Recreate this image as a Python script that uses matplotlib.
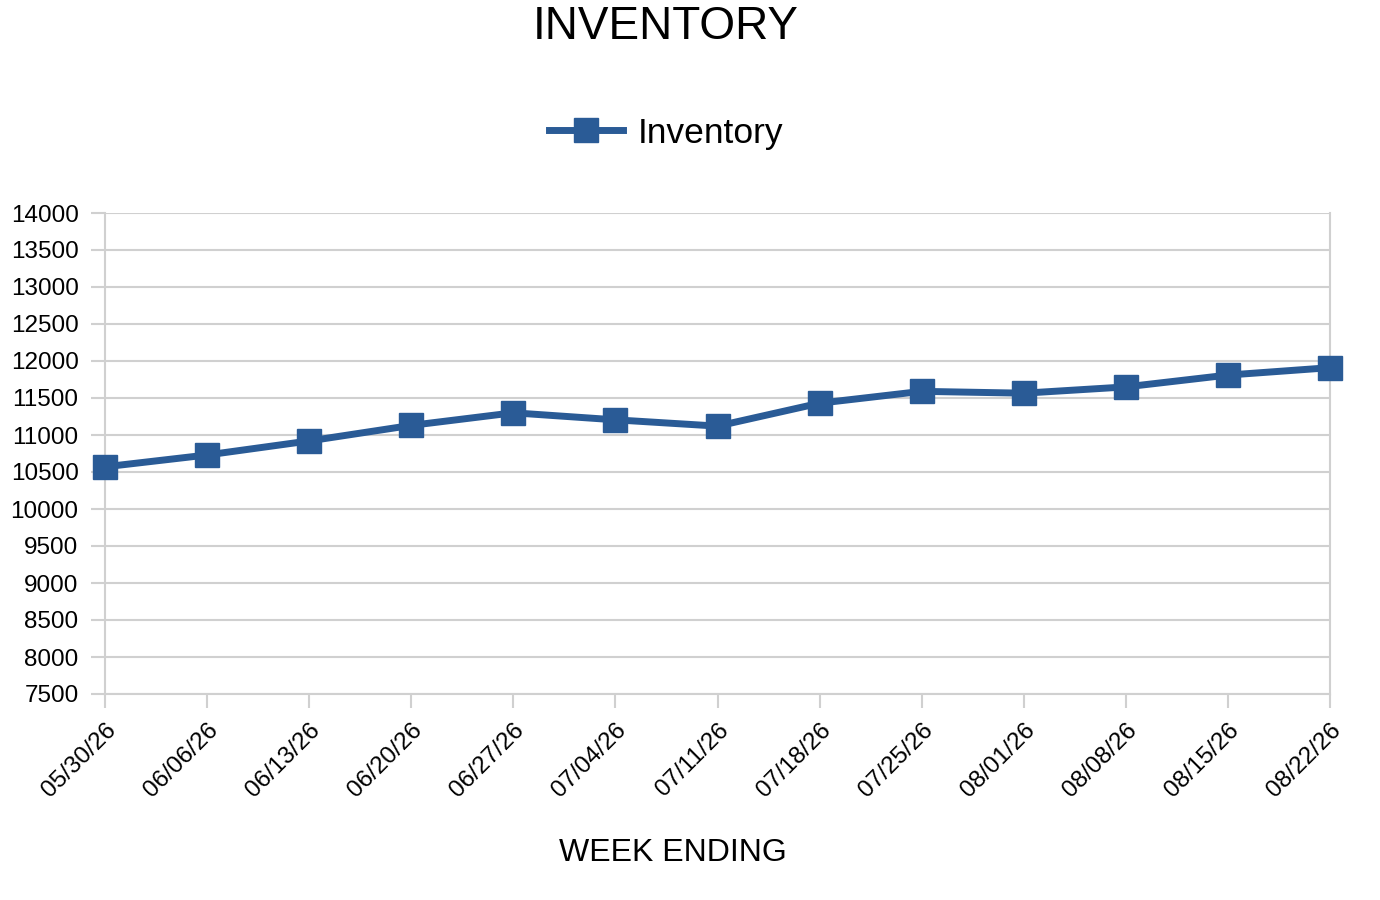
import matplotlib.pyplot as plt
import numpy as np

plt.rcParams['font.family'] = ['Liberation Sans', 'DejaVu Sans']

# data
weeks = ['05/30/26', '06/06/26', '06/13/26', '06/20/26', '06/27/26', '07/04/26',
         '07/11/26', '07/18/26', '07/25/26', '08/01/26', '08/08/26', '08/15/26',
         '08/22/26']
inventory = [10570, 10730, 10920, 11130, 11300, 11205, 11120, 11430, 11590,
             11565, 11650, 11810, 11910]
yticks = list(range(7500, 14001, 500))

line_color = '#2a5b96'
grid_color = '#d0d0d0'

fig = plt.figure(figsize=(13.8, 9), dpi=100)
ax = fig.add_axes([105/1380, 1-694/900, (1330-105)/1380, (694-213)/900])

x = np.arange(len(weeks))
ax.plot(x, inventory, color=line_color, lw=5, marker='s', markersize=17,
        label='Inventory', zorder=3, clip_on=False)

ax.set_xlim(0, len(weeks) - 1)
ax.set_ylim(7500, 14000)
ax.set_yticks(yticks)
ax.set_yticklabels([str(v) for v in yticks], fontsize=17.5)
ax.set_xticks(x)
ax.set_xticklabels(weeks, rotation=45, ha='right', va='top', fontsize=17.5,
                   rotation_mode='anchor')
ax.grid(axis='y', color=grid_color, lw=1.5)
ax.set_axisbelow(True)
ax.tick_params(axis='both', color=grid_color, width=1.5, length=10)
ax.tick_params(axis='y', pad=9)
ax.tick_params(axis='x', pad=8)
for s in ['left', 'right', 'bottom']:
    ax.spines[s].set_color(grid_color)
    ax.spines[s].set_linewidth(1.5)
ax.spines['top'].set_visible(False)

fig.text(666/1380, 1-27/900, 'INVENTORY', fontsize=33, ha='center', va='center')
fig.legend(loc='center', bbox_to_anchor=(666/1380, 1-133/900), frameon=False,
           fontsize=25.5, handlelength=2.1, handletextpad=0.4)
fig.text(673/1380, 1-853/900, 'WEEK ENDING', fontsize=23, ha='center', va='center')

fig.savefig('out.png', dpi=100, facecolor='white')
